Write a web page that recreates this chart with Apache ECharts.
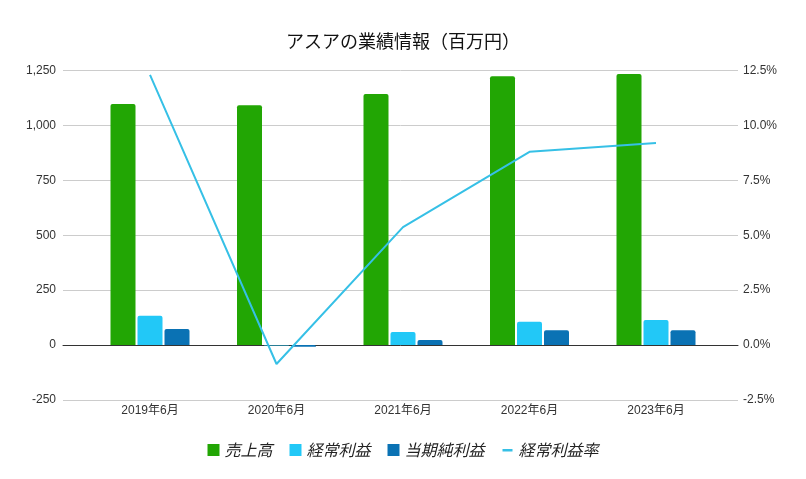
<!DOCTYPE html>
<html>
<head>
<meta charset="utf-8">
<script src="https://cdn.jsdelivr.net/npm/echarts@6/dist/echarts.min.js"></script>
<style>html,body{margin:0;padding:0;background:#fff}#c{width:806px;height:479px}</style>
</head>
<body>
<div id="c"></div>
<script>
const categories = ['2019年6月', '2020年6月', '2021年6月', '2022年6月', '2023年6月'];
const sales = [1097, 1092, 1143, 1224, 1234];
const ordinaryProfit = [133, -2, 59, 106, 114];
const netProfit = [73, -8, 23, 68, 68];
const ordinaryMargin = [12.3, -0.86, 5.37, 8.8, 9.2];
const leftTicks = { min: -250, max: 1250, interval: 250 };
const rightTicks = { min: -2.5, max: 12.5, interval: 2.5 };

const FONT = '"Liberation Sans", Arial, "Noto Sans CJK JP", sans-serif';
const LINE_ICON = 'path://M0,0L0.001,0L0,0.001Z M1,5L11,5L11,7.5L1,7.5Z M12,12L11.999,12L12,11.999Z';
const chart = echarts.init(document.getElementById('c'), null, { renderer: 'canvas' });
chart.setOption({
  backgroundColor: '#ffffff',
  animation: false,
  title: {
    text: 'アスアの業績情報（百万円）',
    left: 'center',
    top: 27,
    textStyle: { fontFamily: '"Noto Sans CJK JP", sans-serif', fontSize: 18, fontWeight: 'normal', color: '#111' }
  },
  legend: {
    top: 437,
    left: 'center',
    itemWidth: 12,
    itemHeight: 12,
    itemGap: 17,
    textStyle: { fontFamily: '"Noto Sans CJK JP", sans-serif', fontSize: 16, fontStyle: 'italic', color: '#222' },
    data: [
      { name: '売上高', icon: 'rect' },
      { name: '経常利益', icon: 'rect' },
      { name: '当期純利益', icon: 'rect' },
      { name: '経常利益率', icon: LINE_ICON }
    ]
  },
  grid: [
    { left: 63, right: 68, top: 70.5, bottom: 79 },
    { left: 86.75, right: 86.75, top: 70.5, bottom: 79 }
  ],
  xAxis: [
    {
      type: 'category', gridIndex: 0, data: [''],
      axisLabel: { show: false }, axisTick: { show: false },
      axisLine: { show: true, onZero: true, lineStyle: { color: '#333', width: 1 } }
    },
    {
      type: 'category', gridIndex: 1, data: categories,
      axisTick: { show: false }, axisLine: { show: false },
      axisLabel: { fontFamily: FONT, fontSize: 12, color: '#333', margin: 5 }
    }
  ],
  yAxis: [
    {
      type: 'value', gridIndex: 0, position: 'left',
      min: leftTicks.min, max: leftTicks.max, interval: leftTicks.interval,
      axisLine: { show: false }, axisTick: { show: false },
      splitLine: { show: true, lineStyle: { color: '#cccccc', width: 1 } },
      axisLabel: {
        fontFamily: FONT, fontSize: 12, color: '#333', margin: 7,
        formatter: v => v.toLocaleString('en-US')
      }
    },
    {
      type: 'value', gridIndex: 0, position: 'right',
      min: rightTicks.min, max: rightTicks.max, interval: rightTicks.interval,
      axisLine: { show: false }, axisTick: { show: false },
      splitLine: { show: false },
      axisLabel: {
        fontFamily: FONT, fontSize: 12, color: '#333', margin: 5,
        formatter: v => v.toFixed(1) + '%'
      }
    },
    {
      type: 'value', gridIndex: 1, min: leftTicks.min, max: leftTicks.max, interval: leftTicks.interval,
      show: false, splitLine: { show: false }
    },
    {
      type: 'value', gridIndex: 1, min: rightTicks.min, max: rightTicks.max, interval: rightTicks.interval,
      show: false, splitLine: { show: false }
    }
  ],
  series: [
    {
      name: '売上高', type: 'bar', xAxisIndex: 1, yAxisIndex: 2, data: sales,
      barWidth: 25, barGap: '8%',
      itemStyle: { color: '#22a604', borderRadius: [2, 2, 0, 0] }
    },
    {
      name: '経常利益', type: 'bar', xAxisIndex: 1, yAxisIndex: 2, data: ordinaryProfit,
      barWidth: 25, barGap: '8%',
      itemStyle: { color: '#22c8f7', borderRadius: [2, 2, 0, 0] }
    },
    {
      name: '当期純利益', type: 'bar', xAxisIndex: 1, yAxisIndex: 2, data: netProfit,
      barWidth: 25, barGap: '8%',
      itemStyle: { color: '#0a72b4', borderRadius: [2, 2, 0, 0] }
    },
    {
      name: '経常利益率', type: 'line', xAxisIndex: 1, yAxisIndex: 3, data: ordinaryMargin,
      symbol: 'none', showSymbol: false,
      lineStyle: { color: '#36c0e6', width: 2 },
      itemStyle: { color: '#36c0e6' },
      z: 5
    }
  ]
});
</script>
</body>
</html>
